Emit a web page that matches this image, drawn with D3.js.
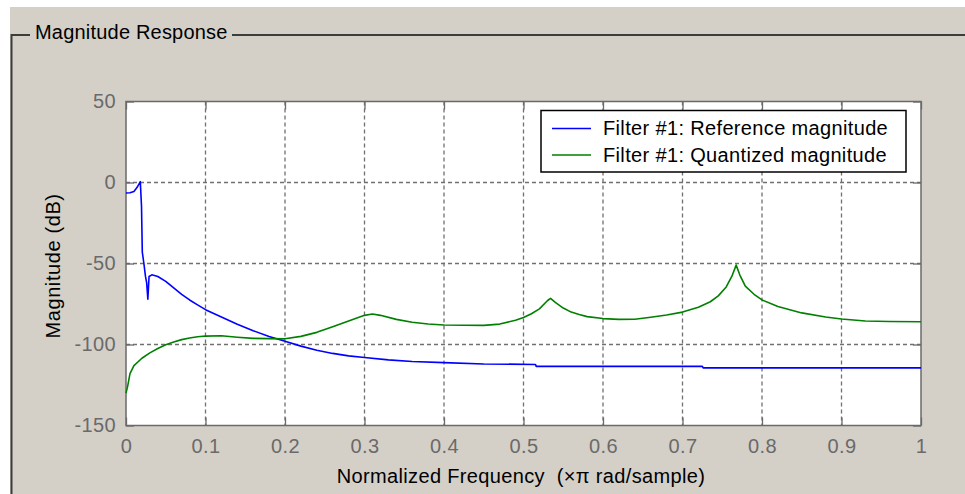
<!DOCTYPE html>
<html>
<head>
<meta charset="utf-8">
<script src="https://cdn.jsdelivr.net/npm/d3@7"></script>
<style>
  html, body { margin: 0; padding: 0; background: #ffffff; }
  svg { display: block; }
  text { font-family: "Liberation Sans", Arial, sans-serif; white-space: pre; }
</style>
</head>
<body>
<svg id="chart" width="965" height="494"></svg>
<script>
// Normalized frequency (x pi rad/sample) and magnitude (dB) samples
const refFreq = [0, 0.005, 0.01, 0.014, 0.018, 0.0195, 0.0205, 0.0225, 0.0245, 0.026, 0.0275, 0.029,
  0.0325, 0.04, 0.05, 0.06, 0.07, 0.08, 0.09, 0.1, 0.12, 0.14, 0.16, 0.18, 0.2, 0.22, 0.24, 0.26,
  0.28, 0.3, 0.33, 0.36, 0.4, 0.45, 0.515, 0.516, 0.725, 0.726, 1.0];
const refMag = [-6.5, -6.3, -5.5, -3, 0.5, -14.5, -43, -50, -58, -62, -72, -58,
  -57, -58, -61, -65, -69, -72.5, -75.5, -78.5, -83, -87.5, -91.5, -95, -98, -101, -103.5, -105.5,
  -107, -108, -109.5, -110.5, -111.2, -112, -112.3, -113.5, -113.5, -114.4, -114.4];

const quantFreq = [0, 0.002, 0.005, 0.01, 0.02, 0.03, 0.04, 0.05, 0.06, 0.07, 0.08, 0.09, 0.1, 0.12,
  0.14, 0.16, 0.2, 0.22, 0.24, 0.26, 0.28, 0.3, 0.31, 0.32, 0.34, 0.36, 0.38, 0.4, 0.45, 0.47, 0.49,
  0.5, 0.51, 0.52, 0.53, 0.534, 0.54, 0.55, 0.56, 0.57, 0.58, 0.6, 0.62, 0.64, 0.66, 0.68, 0.7, 0.72,
  0.735, 0.745, 0.755, 0.762, 0.7675, 0.772, 0.779, 0.79, 0.8, 0.82, 0.85, 0.88, 0.9, 0.93, 0.96, 1.0];
const quantMag = [-130, -126, -118, -113, -108.5, -105.2, -102.5, -100.2, -98.5, -97, -96, -95.2, -94.8, -94.6,
  -95.5, -96.2, -96.5, -95, -92.5, -89, -85.5, -82, -81.2, -82, -84.5, -86.3, -87.3, -88, -88.2, -87.4, -85,
  -83.3, -81, -78, -73, -71.5, -74, -77.5, -80, -81.5, -82.8, -84, -84.5, -84.4, -83.2, -81.8, -80, -77,
  -73.6, -70, -64.5, -58, -51, -57, -64, -69, -72.5, -76.5, -80.5, -83, -84.3, -85.5, -85.8, -86];

const xTicks = [0, 0.1, 0.2, 0.3, 0.4, 0.5, 0.6, 0.7, 0.8, 0.9, 1];
const yTicks = [50, 0, -50, -100, -150];
const seriesNames = ["Filter #1: Reference magnitude", "Filter #1: Quantized magnitude"];
const seriesColors = ["#0000ff", "#008000"];

const svg = d3.select("#chart");
const W = 965, H = 494;
const plot = { left: 126, right: 921, top: 101.5, bottom: 425.5 };
const font = 20;
const spacing = "0.35px";

// Dialog-style panel background with a group box frame
svg.append("rect").attr("x", 10).attr("y", 7).attr("width", W - 10).attr("height", H - 7)
  .attr("fill", "#d4d0c8");

const frame = svg.append("g").attr("stroke", "#3c3c3c").attr("stroke-width", 2).attr("fill", "none");
frame.append("path").attr("d", `M11.5,${H} V35 H30`);
frame.append("path").attr("d", `M232,35 H${W}`);
svg.append("text").attr("x", 35).attr("y", 38.5).attr("font-size", font).attr("fill", "#000")
  .attr("letter-spacing", "0.2px").text("Magnitude Response");

const x = d3.scaleLinear().domain([0, 1]).range([plot.left, plot.right]);
const y = d3.scaleLinear().domain([-150, 50]).range([plot.bottom, plot.top]);

// Plot area
svg.append("rect").attr("x", plot.left).attr("y", plot.top)
  .attr("width", plot.right - plot.left).attr("height", plot.bottom - plot.top)
  .attr("fill", "#ffffff");

// Dashed grid
const grid = svg.append("g").attr("stroke", "#707070").attr("stroke-width", 1.3)
  .attr("stroke-dasharray", "4,3");
grid.selectAll("line.gx").data(xTicks.slice(1, -1)).join("line")
  .attr("x1", d => x(d)).attr("x2", d => x(d)).attr("y1", plot.top).attr("y2", plot.bottom);
grid.selectAll("line.gy").data(yTicks.slice(1, -1)).join("line")
  .attr("y1", d => y(d)).attr("y2", d => y(d)).attr("x1", plot.left).attr("x2", plot.right);

// Axes with inward ticks on all four sides
const tickLen = 8;
const axisColor = "#6a6a6a";
const labelColor = "#6a6a6a";
function styleAxis(g) {
  g.select(".domain").remove();
  g.selectAll(".tick line").attr("stroke", axisColor).attr("stroke-width", 1.3);
  g.selectAll(".tick text").attr("fill", labelColor).attr("font-size", font)
    .attr("letter-spacing", spacing)
    .attr("font-family", "Liberation Sans, Arial, sans-serif");
}
const fmtX = d => d === 0 ? "0" : d === 1 ? "1" : d.toFixed(1);
const fmtY = d => String(d);

svg.append("g").attr("transform", `translate(0,${plot.bottom})`)
  .call(d3.axisBottom(x).tickValues(xTicks).tickFormat(fmtX).tickSizeInner(-tickLen).tickSizeOuter(0).tickPadding(13))
  .call(styleAxis);
svg.append("g").attr("transform", `translate(0,${plot.top})`)
  .call(d3.axisTop(x).tickValues(xTicks).tickFormat("").tickSizeInner(-tickLen).tickSizeOuter(0))
  .call(styleAxis);
svg.append("g").attr("transform", `translate(${plot.left},0)`)
  .call(d3.axisLeft(y).tickValues(yTicks).tickFormat(fmtY).tickSizeInner(-tickLen).tickSizeOuter(0).tickPadding(10))
  .call(styleAxis);
svg.append("g").attr("transform", `translate(${plot.right},0)`)
  .call(d3.axisRight(y).tickValues(yTicks).tickFormat("").tickSizeInner(-tickLen).tickSizeOuter(0))
  .call(styleAxis);

svg.append("rect").attr("x", plot.left).attr("y", plot.top)
  .attr("width", plot.right - plot.left).attr("height", plot.bottom - plot.top)
  .attr("fill", "none").attr("stroke", axisColor).attr("stroke-width", 1.5);

// Response curves
const line = d3.line().x(d => x(d[0])).y(d => y(d[1]));
const series = [d3.zip(refFreq, refMag), d3.zip(quantFreq, quantMag)];
svg.append("g").attr("fill", "none").attr("stroke-width", 1.6).attr("stroke-linejoin", "round")
  .selectAll("path").data(series).join("path")
  .attr("stroke", (d, i) => seriesColors[i]).attr("d", line);

// Axis titles
svg.append("text").attr("x", 521).attr("y", 483).attr("text-anchor", "middle")
  .attr("font-size", font).attr("fill", "#000").attr("letter-spacing", spacing)
  .text("Normalized Frequency  (\u00d7\u03c0 rad/sample)");
svg.append("text").attr("transform", "translate(60,266) rotate(-90)").attr("text-anchor", "middle")
  .attr("font-size", font).attr("fill", "#000").attr("letter-spacing", "0.6px").text("Magnitude (dB)");

// Legend
const leg = svg.append("g");
leg.append("rect").attr("x", 541).attr("y", 110.5).attr("width", 365).attr("height", 61.5)
  .attr("fill", "#ffffff").attr("stroke", "#000").attr("stroke-width", 1.5);
seriesNames.forEach((name, i) => {
  const yy = 128.5 + i * 26.5;
  leg.append("line").attr("x1", 552).attr("x2", 591).attr("y1", yy).attr("y2", yy)
    .attr("stroke", seriesColors[i]).attr("stroke-width", 1.6);
  leg.append("text").attr("x", 603).attr("y", 135 + i * 26.5).attr("font-size", font)
    .attr("fill", "#000").attr("letter-spacing", spacing).text(name);
});
</script>
</body>
</html>
